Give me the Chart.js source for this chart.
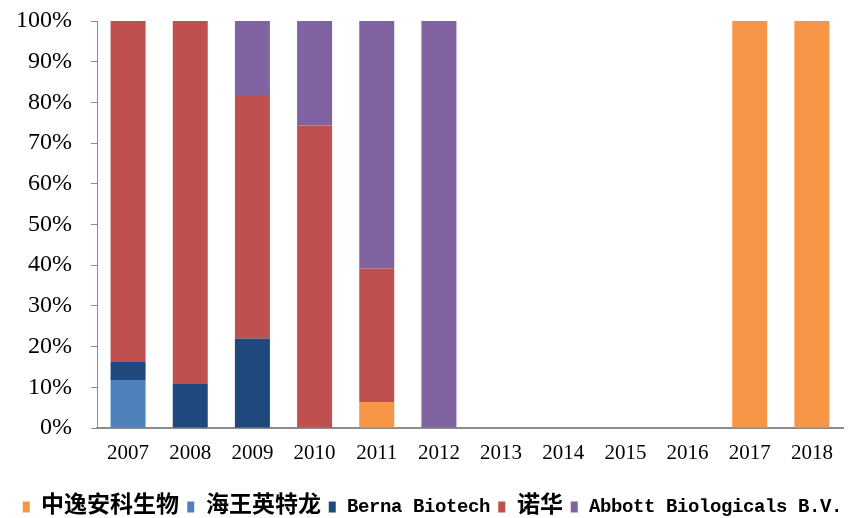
<!DOCTYPE html>
<html>
<head>
<meta charset="utf-8">
<script src="https://cdn.jsdelivr.net/npm/chart.js@4/dist/chart.umd.min.js"></script>
<style>
@font-face { font-family: 'LegMix'; src: local('Liberation Mono Bold'), local('LiberationMono-Bold'); font-weight: bold; unicode-range: U+0000-02FF; size-adjust: 84%; }
@font-face { font-family: 'LegMix'; src: local('Noto Sans CJK SC Bold'), local('NotoSansCJKsc-Bold'), local('Noto Sans CJK SC'); font-weight: bold; unicode-range: U+2E80-9FFF, U+FF00-FFEF; }
html, body { margin: 0; padding: 0; background: #fff; }
#wrap { width: 865px; height: 518px; }
</style>
</head>
<body>
<div id="wrap"><canvas id="c" width="865" height="518"></canvas></div>
<script>
const years = ['2007','2008','2009','2010','2011','2012','2013','2014','2015','2016','2017','2018'];
const seriesNames = ['中逸安科生物','海王英特龙','Berna Biotech','诺华','Abbott Biologicals B.V.'];
const zhongyi = [0,0,0,0,6.4,0,0,0,0,0,100,100];
const haiwang = [11.8,0,0,0,0,0,0,0,0,0,0,0];
const berna = [4.4,10.8,22.0,0,0,0,0,0,0,0,0,0];
const nuohua = [83.8,89.2,59.8,74.3,32.8,0,0,0,0,0,0,0];
const abbott = [0,0,18.2,25.7,60.8,100,0,0,0,0,0,0];
const yTicks = [0,10,20,30,40,50,60,70,80,90,100];

const colors = ['#F79646','#4F81BD','#1F497D','#C0504D','#8064A2'];
const values = [zhongyi, haiwang, berna, nuohua, abbott];

function build() {
  const datasets = seriesNames.map((n, i) => ({
    label: n,
    data: values[i],
    backgroundColor: colors[i],
    borderWidth: 0,
    categoryPercentage: 1.0,
    barPercentage: 0.563
  }));
  new Chart(document.getElementById('c'), {
    type: 'bar',
    data: { labels: years, datasets },
    options: {
      responsive: false,
      animation: false,
      layout: { padding: { top: 21, right: 0, bottom: -10.5, left: 0 } },
      plugins: {
        tooltip: { enabled: false },
        legend: {
          position: 'bottom',
          padding: 0,
          labels: {
            boxWidth: 7,
            boxHeight: 11,
            padding: 8,
            color: '#000',
            font: { family: 'LegMix, "Noto Sans CJK SC", monospace', size: 23, weight: 'bold' }
          }
        }
      },
      scales: {
        x: {
          stacked: true,
          grid: { display: false, drawTicks: false },
          border: { display: true, color: '#8c8c8c', width: 2 },
          ticks: { color: '#000', padding: 13, maxRotation: 0, autoSkip: false,
                   font: { family: '"Liberation Serif", "Times New Roman", serif', size: 21 } },
          afterFit: (s) => { s.height = 59.5; }
        },
        y: {
          stacked: true,
          min: 0, max: 100,
          afterBuildTicks: (s) => { s.ticks = yTicks.map(v => ({ value: v })); },
          grid: { drawOnChartArea: false, drawTicks: true, tickLength: 6, color: '#8c8c8c' },
          border: { display: true, color: '#8c8c8c', width: 1 },
          ticks: { color: '#000', padding: 19, callback: (v) => v + '%',
                   font: { family: '"Liberation Serif", "Times New Roman", serif', size: 24 } },
          afterFit: (s) => { s.width = 97; s.paddingTop = 0; s.paddingBottom = 0; }
        },
        yRight: {
          position: 'right',
          min: 0, max: 100,
          grid: { display: false },
          border: { display: false },
          ticks: { display: false },
          afterFit: (s) => { s.width = 22; s.paddingTop = 0; s.paddingBottom = 0; }
        }
      }
    }
  });
}
Promise.all([
  document.fonts.load('bold 23px LegMix', '中逸安科生物Berna'),
]).catch(() => {}).then(build);
</script>
</body>
</html>
